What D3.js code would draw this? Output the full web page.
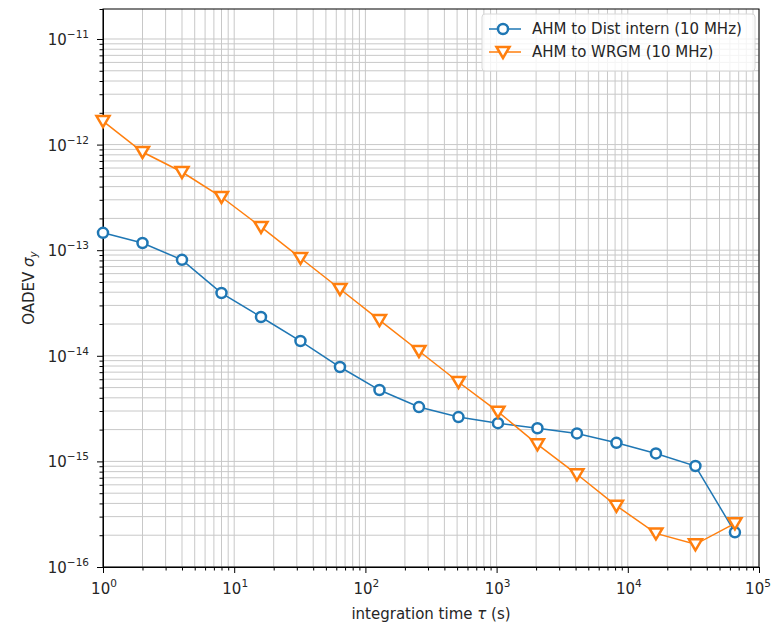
<!DOCTYPE html>
<meta charset="utf-8">
<style>
body { margin: 0; background: #fff; }
text { font-family: "DejaVu Sans", sans-serif; fill: #262626; }
.grid line { stroke: #c8c8c8; stroke-width: 1px; }
.axis path, .axis line { stroke: #000; }
</style>
<body>
<script src="https://d3js.org/d3.v7.min.js"></script>
<script>

// averaging times (s)
var tau = [1, 2, 4, 8, 16, 32, 64, 128, 256, 512, 1024, 2048, 4096, 8192, 16384, 32768, 65536];

// AHM to Dist intern (10 MHz)
var distIntern = [1.46e-13, 1.17e-13, 8.1e-14, 3.93e-14, 2.33e-14, 1.38e-14, 7.83e-15, 4.74e-15,
                  3.27e-15, 2.63e-15, 2.30e-15, 2.06e-15, 1.84e-15, 1.50e-15, 1.19e-15, 9.04e-16, 2.13e-16];

// AHM to WRGM (10 MHz)
var wrgm = [1.67e-12, 8.51e-13, 5.5e-13, 3.19e-13, 1.66e-13, 8.44e-14, 4.29e-14, 2.18e-14,
            1.11e-14, 5.65e-15, 2.96e-15, 1.45e-15, 7.55e-16, 3.80e-16, 2.08e-16, 1.64e-16, 2.59e-16];

var seriesNames = ["AHM to Dist intern (10 MHz)", "AHM to WRGM (10 MHz)"];
var xTickExp = [0, 1, 2, 3, 4, 5];
var yTickExp = [-16, -15, -14, -13, -12, -11];

var margin = {top: 9, right: 13, bottom: 59, left: 103},
    width = 772 - margin.left - margin.right,
    height = 626 - margin.top - margin.bottom;

var x = d3.scaleLog().domain([1, 1e5]).range([0, width]);
var y = d3.scaleLog().domain([1e-16, Math.pow(10, -10.716)]).range([height, 0]);

var svg = d3.select("body").append("svg")
    .attr("width", 772)
    .attr("height", 626)
  .append("g")
    .attr("transform", "translate(" + margin.left + "," + margin.top + ")");

// minor + major tick values
var xAll = [], yAll = [];
for (var e = 0; e < 5; e++) for (var m = 1; m < 10; m++) xAll.push(m * Math.pow(10, e));
xAll.push(1e5);
for (var e = -16; e < -10; e++) for (var m = 1; m < 10; m++) {
  var v = m * Math.pow(10, e);
  if (v <= y.domain()[1]) yAll.push(v);
}
function isMajor(d) { return Math.abs(Math.log10(d) - Math.round(Math.log10(d))) < 1e-6; }

// grid
var grid = svg.append("g").attr("class", "grid");
grid.selectAll(".gx").data(xAll).enter().append("line")
    .attr("x1", function(d) { return x(d); }).attr("x2", function(d) { return x(d); })
    .attr("y1", 0).attr("y2", height);
grid.selectAll(".gy").data(yAll).enter().append("line")
    .attr("y1", function(d) { return y(d); }).attr("y2", function(d) { return y(d); })
    .attr("x1", 0).attr("x2", width);

// axes
var xAxis = d3.axisBottom(x).tickValues(xAll).tickSize(3.5).tickFormat("");
var yAxis = d3.axisLeft(y).tickValues(yAll).tickSize(3.5).tickFormat("");

var gx = svg.append("g").attr("class", "axis")
    .attr("transform", "translate(0," + height + ")").call(xAxis);
gx.selectAll(".tick line").filter(isMajor).attr("y2", 6);
var gy = svg.append("g").attr("class", "axis").call(yAxis);
gy.selectAll(".tick line").filter(isMajor).attr("x2", -6);

// tick labels
xTickExp.forEach(function(p) {
  var t = svg.append("text")
      .attr("x", x(Math.pow(10, p)) + (p === 5 ? -1 : 1))
      .attr("y", height + 27)
      .attr("text-anchor", "middle")
      .style("font-size", "15px");
  t.append("tspan").text("10");
  t.append("tspan").attr("dy", -7).style("font-size", "10.5px").text(String(p));
});
yTickExp.forEach(function(p) {
  var t = svg.append("text")
      .attr("x", -14)
      .attr("y", y(Math.pow(10, p)) + 6)
      .attr("text-anchor", "end")
      .style("font-size", "15px");
  t.append("tspan").text("10");
  t.append("tspan").attr("dy", -7).style("font-size", "10.5px").text("\u2212" + (-p));
});

// frame
svg.append("rect")
    .attr("width", width).attr("height", height)
    .attr("fill", "none").attr("stroke", "#000").attr("stroke-width", 1);

// axis labels
var xl = svg.append("text")
    .attr("x", width / 2).attr("y", height + 52)
    .attr("text-anchor", "middle").style("font-size", "15px");
xl.append("tspan").text("integration time ");
xl.append("tspan").style("font-style", "italic").text("\u03c4");
xl.append("tspan").text(" (s)");

var yl = svg.append("text")
    .attr("transform", "translate(-69," + (height / 2) + ") rotate(-90)")
    .attr("text-anchor", "middle").style("font-size", "15px");
yl.append("tspan").text("OADEV ");
yl.append("tspan").style("font-style", "italic").text("\u03c3");
yl.append("tspan").attr("dy", 3).style("font-size", "10.5px").style("font-style", "italic").text("y");

// lines
var line = d3.line()
    .x(function(d) { return x(d[0]); })
    .y(function(d) { return y(d[1]); });

var colors = ["#1f77b4", "#ff7f0e"];
var tri = "M0,6 L-6.5,-5 L6.5,-5 Z";

var plot = svg.append("g");
[distIntern, wrgm].forEach(function(vals, i) {
  var pts = d3.zip(tau, vals);
  plot.append("path").datum(pts)
      .attr("fill", "none").attr("stroke", colors[i]).attr("stroke-width", 1.5)
      .attr("d", line);
  var mk = plot.selectAll(".m" + i).data(pts).enter();
  if (i === 0) {
    mk.append("circle")
        .attr("cx", function(d) { return x(d[0]); })
        .attr("cy", function(d) { return y(d[1]); })
        .attr("r", 5).attr("fill", "#fff")
        .attr("stroke", colors[i]).attr("stroke-width", 2.5);
  } else {
    mk.append("path")
        .attr("transform", function(d) { return "translate(" + x(d[0]) + "," + y(d[1]) + ")"; })
        .attr("d", tri).attr("fill", "#fff")
        .attr("stroke", colors[i]).attr("stroke-width", 2.5).attr("stroke-linejoin", "miter");
  }
});

// legend
var lg = svg.append("g").attr("transform", "translate(" + (width - 277) + ",5)");
lg.append("rect").attr("width", 273).attr("height", 57).attr("rx", 3)
    .attr("fill", "#fff").attr("fill-opacity", 0.8)
    .attr("stroke", "#d8d8d8").attr("stroke-width", 1);
seriesNames.forEach(function(name, i) {
  var yy = 15 + i * 23;
  lg.append("line").attr("x1", 7).attr("x2", 39).attr("y1", yy).attr("y2", yy)
      .attr("stroke", colors[i]).attr("stroke-width", 1.5);
  if (i === 0) {
    lg.append("circle").attr("cx", 21).attr("cy", yy).attr("r", 5)
        .attr("fill", "#fff").attr("stroke", colors[i]).attr("stroke-width", 2.5);
  } else {
    lg.append("path").attr("transform", "translate(21," + yy + ")").attr("d", tri)
        .attr("fill", "#fff").attr("stroke", colors[i]).attr("stroke-width", 2.5);
  }
  lg.append("text").attr("x", 50).attr("y", yy + 5).style("font-size", "15px").text(name);
});

</script>
</body>
